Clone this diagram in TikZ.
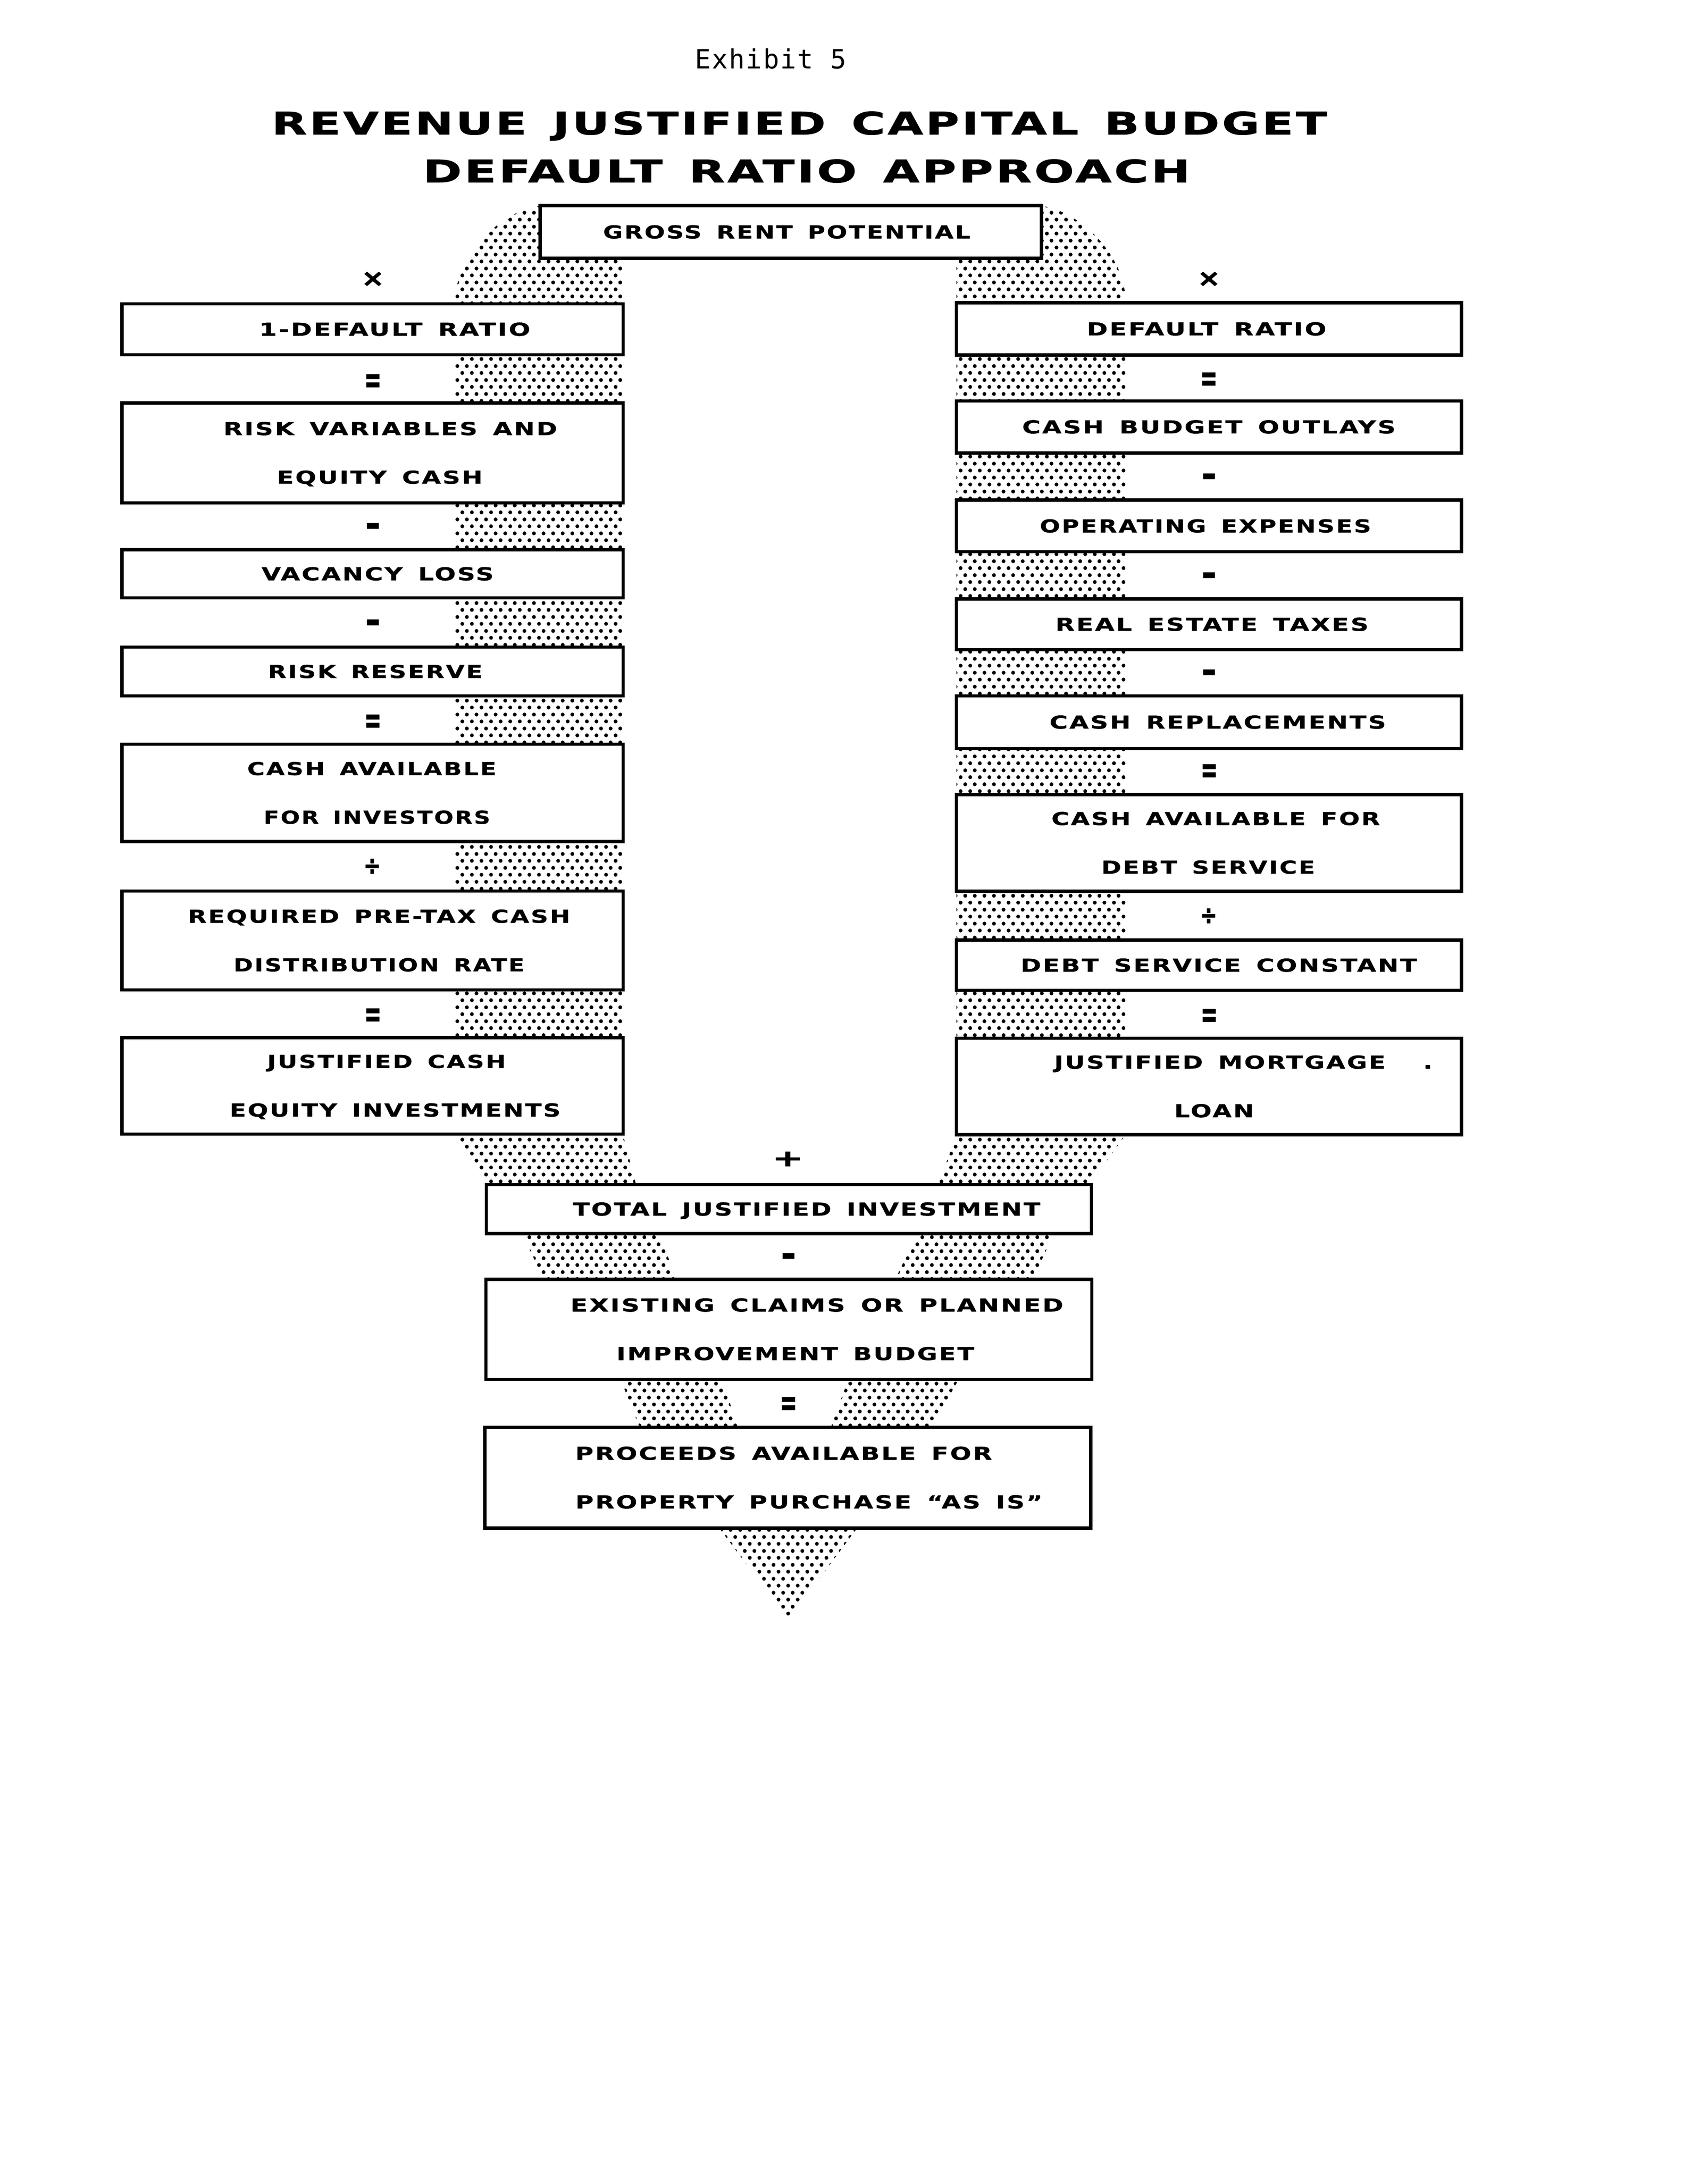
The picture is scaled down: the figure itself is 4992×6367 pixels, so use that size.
\documentclass[tikz,border=0pt]{standalone}
\usepackage{fontspec}
\usepackage{graphicx}
\usetikzlibrary{patterns.meta}
\newfontfamily\lblfont{DejaVu Sans}[FakeStretch=1.35,LetterSpace=9,WordSpace=1.5,FakeBold=1]
\newfontfamily\headfont{DejaVu Sans}[FakeStretch=1.5,LetterSpace=8,WordSpace=1.4,FakeBold=1.5]
\newfontfamily\exfont{DejaVu Sans Mono}[LetterSpace=4.5]
\newfontfamily\opfont{DejaVu Sans}[FakeBold=2]
\newcommand\capbox[1]{\raisebox{0pt}[\fontcharht\font`E][0pt]{#1}}
\newcommand\Ln[3]{\kern#1cm\resizebox{#2cm}{0.38cm}{\capbox{#3}}\kern-#1cm}
\newcommand\opEq{\fontsize{17}{17}\selectfont\scalebox{1}[1.8]{=}}
\newcommand\opMinus{\fontsize{30}{30}\selectfont -}
\newcommand\opDiv{\fontsize{17}{17}\selectfont\scalebox{1}[1.3]{÷}}
\newcommand\opTimes{\fontsize{23}{23}\selectfont\scalebox{1}[0.85]{×}}
\newcommand\opPlus{\fontsize{31}{31}\selectfont\scalebox{1}[0.61]{+}}
\tikzdeclarepattern{
  name=stip,
  type=uncolored,
  bounding box={(0pt,0pt) and (7.97pt,11.67pt)},
  tile size={(7.97pt,11.67pt)},
  code={
    \pgfpathcircle{\pgfqpoint{2pt}{2.9pt}}{1.65pt}
    \pgfpathcircle{\pgfqpoint{5.98pt}{8.74pt}}{1.65pt}
    \pgfusepath{fill}
  }
}
\tikzset{
  bx/.style={draw, fill=white, line width=2.7pt, inner sep=0pt, align=center,
    font=\lblfont\bfseries\fontsize{15}{40.4}\selectfont},
  lcol/.style={bx, minimum width=14.64cm},
  rcol/.style={bx, minimum width=14.76cm},
  ccol/.style={bx, minimum width=17.70cm},
  opr/.style={inner sep=0pt, font=\opfont\bfseries},
  lowop/.style={opr, yshift=-3.1pt}
}
\begin{document}
\begin{tikzpicture}[x=0.01cm,y=-0.01cm]
\useasboundingbox (0,0) rectangle (4992,6367);
\fill[white] (0,0) rectangle (4992,6367);

% stippled band
\fill[pattern=stip, pattern color=black, even odd rule]
  (2305,4735) -- (2103,4468) -- (1869,4170) -- (1815,4035) -- (1588,3738)
  -- (1528,3608) -- (1422,3460) -- (1331,3317) -- (1331,880)
  .. controls (1331,740) and (1480,600) .. (1600,600) -- (3021,600)
  .. controls (3141,600) and (3290,740) .. (3290,880) -- (3290,3317)
  -- (3192,3455) -- (3078,3612) -- (3021,3736) -- (2800,4037)
  -- (2726,4167) -- (2505,4468) -- cycle
  (1821,755) -- (1821,3317) -- (1858,3458) -- (1929,3611) -- (1976,3736)
  -- (2110,4037) -- (2157,4167) -- (2305,4320) -- (2431,4167) -- (2478,4037)
  -- (2619,3736) -- (2679,3611) -- (2746,3455) -- (2796,3317) -- (2796,755) -- cycle;

% titles
\node[font=\exfont\fontsize{22}{22}\selectfont, anchor=base, inner sep=0pt] (ex) at (2253,200) {Exhibit 5};
\node[font=\headfont\bfseries\fontsize{30}{30}\selectfont, inner sep=0pt] (h1) at (2337,360)
  {\resizebox{30.84cm}{0.66cm}{\capbox{REVENUE JUSTIFIED CAPITAL BUDGET}}};
\node[font=\headfont\bfseries\fontsize{30}{30}\selectfont, inner sep=0pt] (h2) at (2358,500)
  {\resizebox{22.42cm}{0.66cm}{\capbox{DEFAULT RATIO APPROACH}}};

% top box
\node[bx, minimum width=14.65cm, minimum height=1.54cm] (grp) at (2312,678) {\Ln{-0.12}{10.73}{GROSS RENT POTENTIAL}};

% left column
\node[lcol, minimum height=1.49cm] (l1) at (1089,962.5) {\Ln{0.65}{7.92}{1\kern0.1em-DEFAULT RATIO}};
\node[lcol, minimum height=2.92cm] (l2) at (1089,1324) {\Ln{0.52}{9.75}{RISK VARIABLES AND}\\\Ln{0.21}{6.01}{EQUITY CASH}};
\node[lcol, minimum height=1.41cm] (l3) at (1089,1677.5) {\Ln{0.15}{6.78}{VACANCY LOSS}};
\node[lcol, minimum height=1.42cm] (l4) at (1089,1963) {\Ln{0.08}{6.27}{RISK RESERVE}};
\node[lcol, minimum height=2.84cm] (l5) at (1089,2318) {\Ln{-0.02}{7.28}{CASH AVAILABLE}\\\Ln{0.13}{6.62}{FOR INVESTORS}};
\node[lcol, minimum height=2.89cm] (l6) at (1089,2749.5) {\Ln{0.19}{11.17}{REQUIRED PRE-TAX CASH}\\\Ln{0.19}{8.50}{DISTRIBUTION RATE}};
\node[lcol, minimum height=2.82cm] (l7) at (1089,3174) {\Ln{0.41}{6.97}{JUSTIFIED CASH}\\\Ln{0.66}{9.67}{EQUITY INVESTMENTS}};

% right column
\node[rcol, minimum height=1.53cm] (r1) at (3534,961.5) {\Ln{-0.07}{7.00}{DEFAULT RATIO}};
\node[rcol, minimum height=1.52cm] (r2) at (3534,1248) {\Ln{0}{10.91}{CASH BUDGET OUTLAYS}};
\node[rcol, minimum height=1.51cm] (r3) at (3534,1537.5) {\Ln{-0.10}{9.68}{OPERATING EXPENSES}};
\node[rcol, minimum height=1.48cm] (r4) at (3534,1825) {\Ln{0.09}{9.15}{REAL ESTATE TAXES}};
\node[rcol, minimum height=1.54cm] (r5) at (3534,2111) {\Ln{0.26}{9.83}{CASH REPLACEMENTS}};
\node[rcol, minimum height=2.82cm] (r6) at (3534,2464) {\Ln{0.20}{9.60}{CASH AVAILABLE FOR}\\\Ln{-0.02}{6.24}{DEBT SERVICE}};
\node[rcol, minimum height=1.47cm] (r7) at (3534,2821.5) {\Ln{0.29}{11.58}{DEBT SERVICE CONSTANT}};
\node[rcol, minimum height=2.82cm] (r8) at (3534,3176)
  {\kern0.32cm\resizebox{9.68cm}{0.38cm}{\capbox{JUSTIFIED MORTGAGE}}\rlap{\kern1.1cm.}\kern-0.32cm\\\Ln{0.15}{2.33}{LOAN}};

% centre column
\node[ccol, minimum width=17.68cm, minimum height=1.43cm] (tji) at (2306,3534.5) {\Ln{0.52}{13.66}{TOTAL JUSTIFIED INVESTMENT}};
\node[ccol, minimum height=2.92cm] (ecp) at (2306,3886) {\Ln{0.82}{14.40}{EXISTING CLAIMS OR PLANNED}\\\Ln{0.19}{10.45}{IMPROVEMENT BUDGET}};
\node[ccol, minimum height=2.95cm] (paf) at (2303,4319.5) {\Ln{-0.12}{12.18}{PROCEEDS AVAILABLE FOR}\\\Ln{0.62}{13.65}{PROPERTY PURCHASE “AS IS”}};

% operators, left
\node[opr] (ol1) at (1090,816) {\opTimes};
\node[lowop] (ol2) at (1090,1110) {\opEq};
\node[lowop] (ol3) at (1090,1538) {\opMinus};
\node[lowop] (ol4) at (1090,1820) {\opMinus};
\node[lowop] (ol5) at (1090,2105) {\opEq};
\node[opr] (ol6) at (1088,2534) {\opDiv};
\node[lowop] (ol7) at (1090,2964) {\opEq};
% operators, right
\node[opr] (or1) at (3534,816) {\opTimes};
\node[lowop] (or2) at (3534,1105) {\opEq};
\node[lowop] (or3) at (3534,1393) {\opMinus};
\node[lowop] (or4) at (3534,1682) {\opMinus};
\node[lowop] (or5) at (3534,1966) {\opMinus};
\node[lowop] (or6) at (3535,2250) {\opEq};
\node[opr] (or7) at (3533,2679) {\opDiv};
\node[lowop] (or8) at (3535,2965) {\opEq};
% operators, centre
\node[opr] (oc1) at (2303,3388) {\opPlus};
\node[lowop] (oc2) at (2305,3672) {\opMinus};
\node[lowop] (oc3) at (2305,4100) {\opEq};
\end{tikzpicture}
\end{document}
